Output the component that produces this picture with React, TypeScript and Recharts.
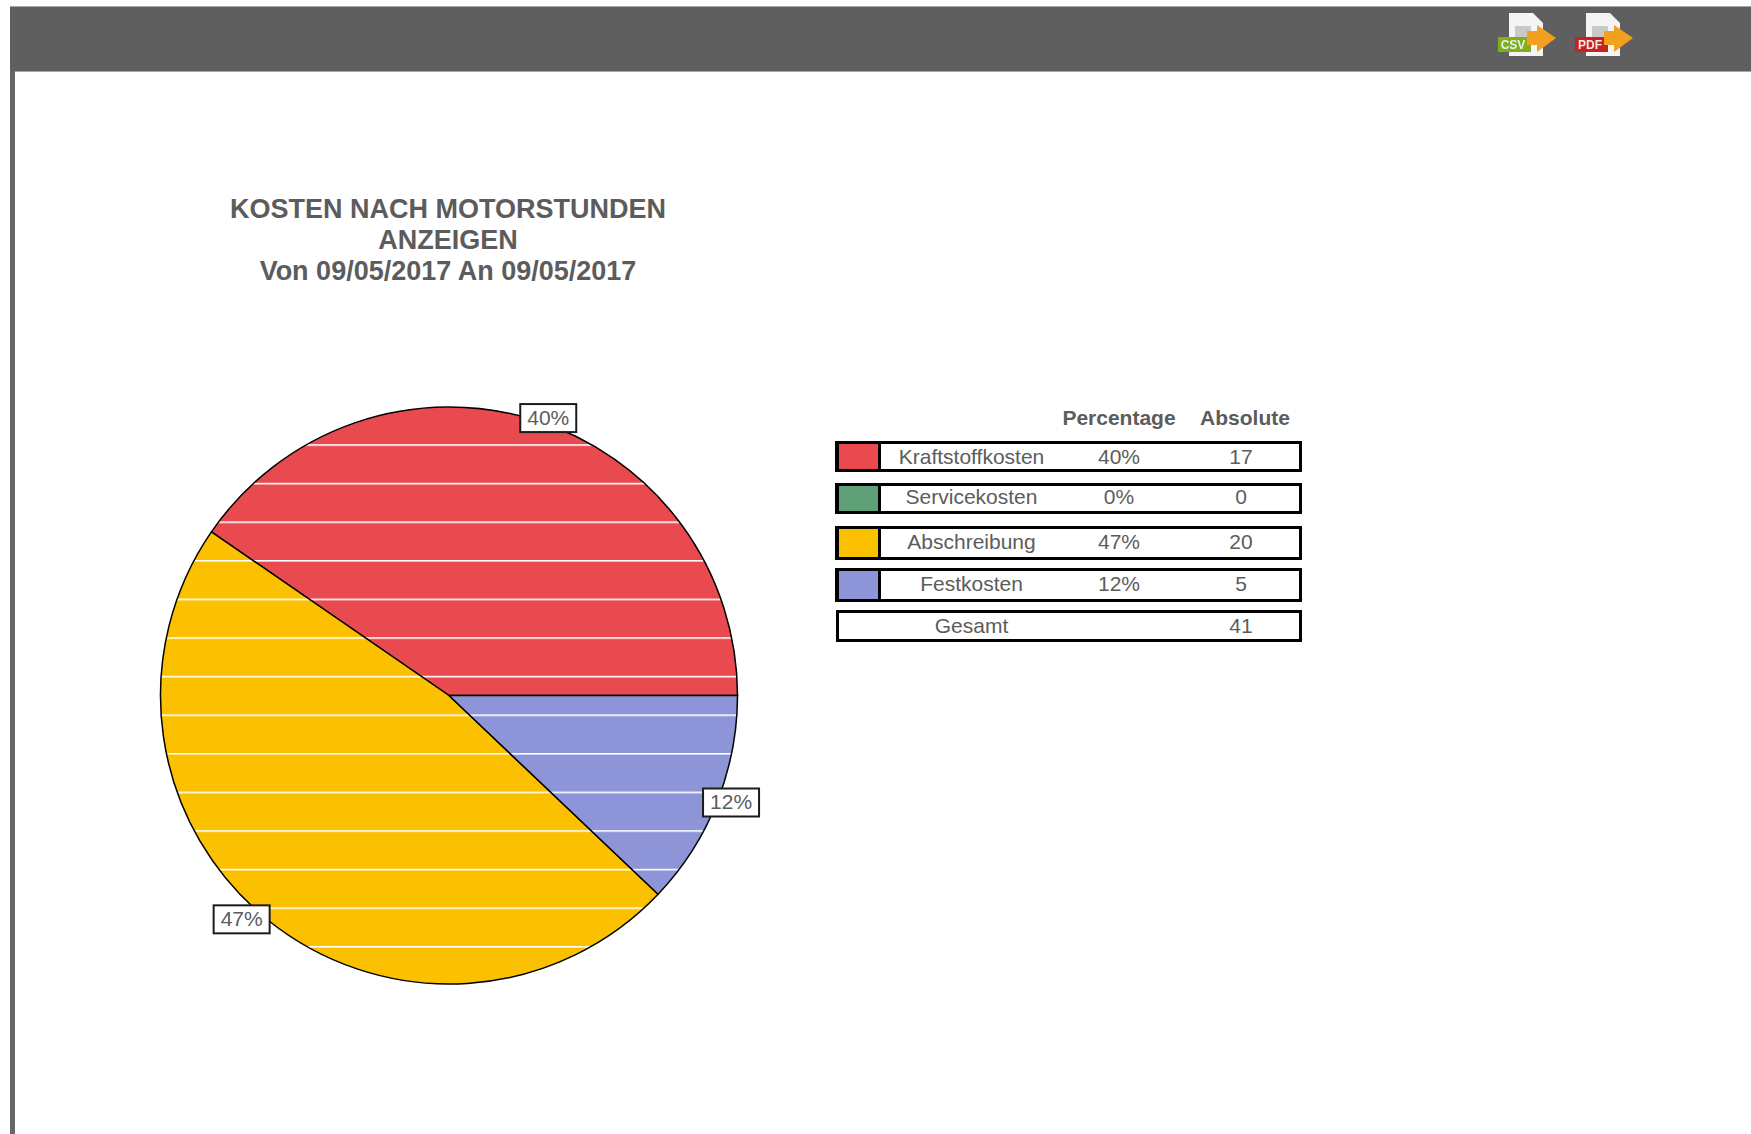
import { PieChart, Pie, Cell } from 'recharts'

const categories = ['Kraftstoffkosten', 'Servicekosten', 'Abschreibung', 'Festkosten']
const sliceValues = [40.4, 0, 47.5, 12.1]
const percentLabels = ['40%', '0%', '47%', '12%']
const absoluteValues = [17, 0, 20, 5]
const totalLabel = 'Gesamt'
const totalValue = 41
const columnLabels = ['Percentage', 'Absolute']
const titleLines = ['KOSTEN NACH MOTORSTUNDEN', 'ANZEIGEN', 'Von 09/05/2017 An 09/05/2017']
const exportLabels = ['CSV', 'PDF']

const colors = ['#e84a50', '#5fa078', '#fbc000', '#8e94d8']
const exportColors = ['#7fae1c', '#c9211e']
const GRAY = '#5c5c5c'
const FONT = '"Liberation Sans", Arial, sans-serif'

const rowTops = [441, 483, 526, 568, 610]
const rowHeights = [31, 31, 34, 34, 32]
const rowTextShift = [0, -2, -1, -1, 0]
const labelNudge = [[10, 9.5], [0, 0], [-18, -9.5], [3, -4.5]]

const data = categories.map((name, i) => ({ name, value: sliceValues[i] }))

function SliceLabel(props: any) {
  const { cx, cy, midAngle, outerRadius, index } = props
  if (sliceValues[index] === 0) return null
  const rad = (midAngle * Math.PI) / 180
  const x = cx + (outerRadius + 12) * Math.cos(rad) + labelNudge[index][0]
  const y = cy - (outerRadius + 12) * Math.sin(rad) + labelNudge[index][1]
  return (
    <g>
      <rect x={x - 28} y={y - 14} width={56} height={28} fill="#fff" stroke="#1c1c1c" strokeWidth={2} />
      <text x={x} y={y + 6.5} textAnchor="middle" fontSize={21} fontFamily={FONT} fill={GRAY}>
        {percentLabels[index]}
      </text>
    </g>
  )
}

function ExportIcon({ left, label, color }: { left: number; label: string; color: string }) {
  return (
    <svg width={62} height={50} viewBox="0 0 62 50" style={{ position: 'absolute', left, top: 10, filter: 'blur(0.7px)' }}>
      <path d="M11 3 H35 L45 13 V46 H11 Z" fill="#f4f4f4" />
      <rect x={17} y={16} width={16} height={16} fill="#c9c9c9" />
      <rect x={0} y={27} width={33} height={15} fill={color} />
      <path d="M29 21 H39 V15 L58 28 L39 42 V35 H29 Z" fill="#f2a01f" />
      <text x={15} y={39} textAnchor="middle" fontSize={12} fontWeight="bold" fontFamily={FONT} fill="#eee">
        {label}
      </text>
    </svg>
  )
}

const cellText = (center: number, width: number): React.CSSProperties => ({
  position: 'absolute',
  left: center - width / 2,
  width,
  textAlign: 'center',
  whiteSpace: 'nowrap',
})

function CostTable() {
  const rows = categories.map((name, i) => ({
    name,
    pct: percentLabels[i],
    abs: String(absoluteValues[i]),
    color: colors[i],
  }))
  rows.push({ name: totalLabel, pct: '', abs: String(totalValue), color: '' })
  return (
    <div style={{ fontFamily: FONT, fontSize: 21, color: GRAY }}>
      <div style={{ ...cellText(1119, 160), top: 405, fontWeight: 'bold', lineHeight: '26px' }}>{columnLabels[0]}</div>
      <div style={{ ...cellText(1245, 120), top: 405, fontWeight: 'bold', lineHeight: '26px' }}>{columnLabels[1]}</div>
      {rows.map((r, i) => (
        <div key={r.name}>
          <div
            style={{
              position: 'absolute',
              left: r.color ? 835 : 836,
              top: rowTops[i],
              width: r.color ? 467 : 466,
              height: rowHeights[i],
              boxSizing: 'border-box',
              border: '3px solid #000',
            }}
          />
          {r.color && (
            <div
              style={{
                position: 'absolute',
                left: 835,
                top: rowTops[i],
                width: 46,
                height: rowHeights[i],
                boxSizing: 'border-box',
                border: '3px solid #000',
                borderLeftWidth: 4,
                background: r.color,
              }}
            />
          )}
          {[
            [971.5, r.name],
            [1119, r.pct],
            [1241, r.abs],
          ].map(([c, t]) => (
            <div
              key={String(c)}
              style={{
                ...cellText(c as number, 200),
                top: rowTops[i] + rowTextShift[i],
                height: rowHeights[i],
                lineHeight: rowHeights[i] + 'px',
              }}
            >
              {t}
            </div>
          ))}
        </div>
      ))}
    </div>
  )
}

export default function App() {
  return (
    <div style={{ position: 'absolute', left: 0, top: 0, width: 1751, height: 1134, background: '#fff', overflow: 'hidden' }}>
      <div style={{ position: 'absolute', left: 10, top: 6, right: 0, height: 66, boxSizing: 'border-box', background: '#5f5f5f', borderTop: '1px solid #a8a8a8', borderBottom: '1px solid #a8a8a8' }} />
      <div style={{ position: 'absolute', left: 10, top: 71, width: 5, bottom: 0, background: '#666' }} />
      <ExportIcon left={1498} label={exportLabels[0]} color={exportColors[0]} />
      <ExportIcon left={1575} label={exportLabels[1]} color={exportColors[1]} />

      <div style={{ position: 'absolute', left: 148, width: 600, top: 194, textAlign: 'center', fontFamily: FONT, fontWeight: 'bold', fontSize: 27, lineHeight: '31px', color: GRAY }}>
        {titleLines.map(t => (
          <div key={t}>{t}</div>
        ))}
      </div>

      <div style={{ position: 'absolute', left: 0, top: 0 }}>
        <PieChart width={1751} height={1134} margin={{ top: 0, right: 0, bottom: 0, left: 0 }}>
          <defs>
            {colors.map((c, i) => (
              <pattern key={c} id={'stripe' + i} patternUnits="userSpaceOnUse" x={0} y={444.2} width={20} height={38.6}>
                <rect x={0} y={0} width={20} height={38.6} fill={c} />
                <rect x={0} y={0} width={20} height={1.6} fill="#fff" />
              </pattern>
            ))}
          </defs>
          <Pie
            data={data}
            dataKey="value"
            nameKey="name"
            cx={449}
            cy={695.5}
            outerRadius={288.5}
            startAngle={0}
            endAngle={360}
            stroke="#000"
            strokeWidth={1.5}
            labelLine={false}
            label={SliceLabel}
            isAnimationActive={false}
          >
            {data.map((d, i) => (
              <Cell key={d.name} fill={`url(#stripe${i})`} />
            ))}
          </Pie>
        </PieChart>
      </div>

      <CostTable />
    </div>
  )
}
